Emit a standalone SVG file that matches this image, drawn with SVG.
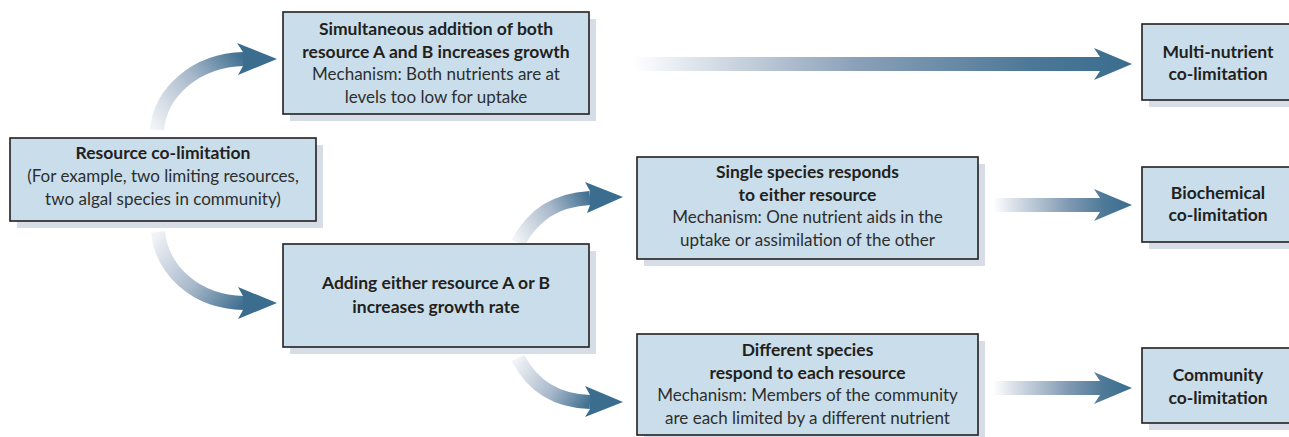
<svg xmlns="http://www.w3.org/2000/svg" width="1289" height="437" viewBox="0 0 1289 437">
<style>
.box{fill:#c9deea;stroke:#231f20;stroke-width:1.6}
.shadow{fill:#d6dde6}
text{font-family:Lato,"Liberation Sans",sans-serif;text-anchor:middle;fill:#231f20}
.b{font-weight:700;font-size:17.5px}
.r{font-weight:400;font-size:17px;fill:#2e2e2e}
.head{fill:#3a6d8e}
</style>
<defs>
<linearGradient id="gTop" gradientUnits="userSpaceOnUse" x1="633" y1="0" x2="1132" y2="0">
<stop offset="0" stop-color="#ffffff"/><stop offset="0.12" stop-color="#dfe5ec"/><stop offset="0.45" stop-color="#8aa0b8"/><stop offset="0.8" stop-color="#4c7897"/><stop offset="1" stop-color="#3a6d8e"/>
</linearGradient>
<linearGradient id="gMid" gradientUnits="userSpaceOnUse" x1="993" y1="0" x2="1132" y2="0">
<stop offset="0" stop-color="#ffffff"/><stop offset="0.15" stop-color="#d9e0e9"/><stop offset="0.55" stop-color="#7f98b2"/><stop offset="0.8" stop-color="#4d7997"/><stop offset="1" stop-color="#3a6d8e"/>
</linearGradient>
<linearGradient id="gC1" gradientUnits="userSpaceOnUse" x1="157" y1="130" x2="244" y2="59">
<stop offset="0" stop-color="#f1f3f6"/><stop offset="0.55" stop-color="#a7b8ca"/><stop offset="1" stop-color="#417091"/>
</linearGradient>
<linearGradient id="gC2" gradientUnits="userSpaceOnUse" x1="158" y1="232" x2="244" y2="303">
<stop offset="0" stop-color="#f1f3f6"/><stop offset="0.55" stop-color="#a7b8ca"/><stop offset="1" stop-color="#417091"/>
</linearGradient>
<linearGradient id="gC3" gradientUnits="userSpaceOnUse" x1="518" y1="243" x2="590" y2="198">
<stop offset="0" stop-color="#f1f3f6"/><stop offset="0.55" stop-color="#a7b8ca"/><stop offset="1" stop-color="#417091"/>
</linearGradient>
<linearGradient id="gC4" gradientUnits="userSpaceOnUse" x1="518" y1="358" x2="590" y2="402">
<stop offset="0" stop-color="#f1f3f6"/><stop offset="0.55" stop-color="#a7b8ca"/><stop offset="1" stop-color="#417091"/>
</linearGradient>
</defs>

<g id="connectors">
<path d="M157 130 C160 93 195 60 244 59" fill="none" stroke="url(#gC1)" stroke-width="14"/>
<polygon class="head" points="243,52 237,43 277,59 238,75 243,66"/>
<path d="M158 232 C162 270 195 302 244 303" fill="none" stroke="url(#gC2)" stroke-width="14"/>
<polygon class="head" points="243,296 238,287 277,303 238,319 243,310"/>
<path d="M518 243 C533 215 555 200 590 198" fill="none" stroke="url(#gC3)" stroke-width="14"/>
<polygon class="head" points="590,191 585,182 623,197 587,213 590,205"/>
<path d="M518 358 C532 385 555 401 590 402" fill="none" stroke="url(#gC4)" stroke-width="14"/>
<polygon class="head" points="590,395 585,386 623,402 585,417 590,409"/>
<polygon fill="url(#gTop)" points="633,57 1100,57 1094,48 1132,64 1094,80 1100,71 633,71"/>
<polygon fill="url(#gMid)" points="993,198 1100,198 1094,189 1132,205 1094,221 1100,212 993,212"/>
<polygon fill="url(#gMid)" points="993,381 1100,381 1094,372 1132,388 1094,404 1100,395 993,395"/>
</g>

<g id="node-resource">
<rect class="shadow" x="17" y="145" width="306" height="83"/>
<rect class="box" x="10" y="138" width="306" height="83"/>
<text class="b" x="163" y="159">Resource co-limitation</text>
<text class="r" x="163" y="182">(For example, two limiting resources,</text>
<text class="r" x="163" y="205">two algal species in community)</text>
</g>

<g id="node-simultaneous">
<rect class="shadow" x="290" y="19" width="306" height="102"/>
<rect class="box" x="283" y="12" width="306" height="102"/>
<text class="b" x="436" y="35">Simultaneous addition of both</text>
<text class="b" x="436" y="58">resource A and B increases growth</text>
<text class="r" x="436" y="80">Mechanism: Both nutrients are at</text>
<text class="r" x="436" y="103">levels too low for uptake</text>
</g>

<g id="node-adding">
<rect class="shadow" x="290" y="251" width="306" height="103"/>
<rect class="box" x="283" y="244" width="306" height="103"/>
<text class="b" x="436" y="289">Adding either resource A or B</text>
<text class="b" x="436" y="313">increases growth rate</text>
</g>

<g id="node-single">
<rect class="shadow" x="644" y="164" width="341" height="102"/>
<rect class="box" x="637" y="157" width="341" height="102"/>
<text class="b" x="807.5" y="178">Single species responds</text>
<text class="b" x="807.5" y="201">to either resource</text>
<text class="r" x="807.5" y="223">Mechanism: One nutrient aids in the</text>
<text class="r" x="807.5" y="246">uptake or assimilation of the other</text>
</g>

<g id="node-different">
<rect class="shadow" x="644" y="341" width="341" height="101"/>
<rect class="box" x="637" y="334" width="341" height="101"/>
<text class="b" x="807.5" y="356">Different species</text>
<text class="b" x="807.5" y="379">respond to each resource</text>
<text class="r" x="807.5" y="401">Mechanism: Members of the community</text>
<text class="r" x="807.5" y="424">are each limited by a different nutrient</text>
</g>

<g id="node-multi">
<rect class="shadow" x="1149" y="31" width="150" height="76"/>
<rect class="box" x="1142" y="24" width="152" height="76"/>
<text class="b" x="1218" y="58">Multi-nutrient</text>
<text class="b" x="1218" y="80">co-limitation</text>
</g>

<g id="node-biochemical">
<rect class="shadow" x="1149" y="174" width="150" height="75"/>
<rect class="box" x="1142" y="167" width="152" height="75"/>
<text class="b" x="1218" y="199">Biochemical</text>
<text class="b" x="1218" y="221">co-limitation</text>
</g>

<g id="node-community">
<rect class="shadow" x="1149" y="355" width="150" height="75"/>
<rect class="box" x="1142" y="348" width="152" height="75"/>
<text class="b" x="1218" y="381">Community</text>
<text class="b" x="1218" y="404">co-limitation</text>
</g>
</svg>
